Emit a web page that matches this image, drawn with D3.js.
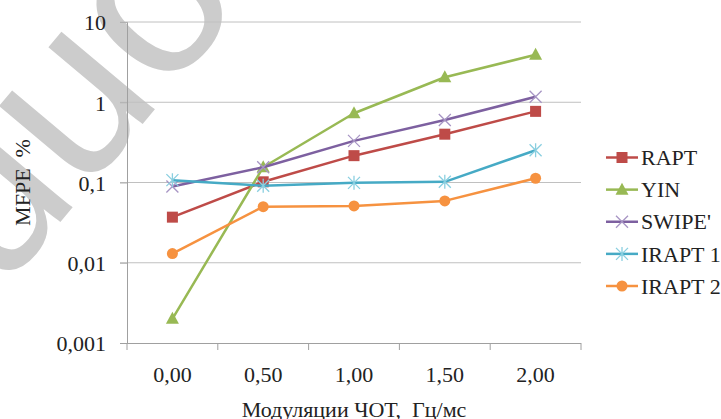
<!DOCTYPE html>
<html><head><meta charset="utf-8">
<script src="https://cdn.jsdelivr.net/npm/d3@7"></script>
<style>
html,body{margin:0;padding:0;background:#fff;}
svg{display:block;}
svg text.serif{font-family:"Liberation Serif","DejaVu Serif","Noto Serif","Times New Roman",serif;}
</style></head>
<body><svg id="c" width="721" height="419"></svg>
<script>
const categories = ["0,00","0,50","1,00","1,50","2,00"];
const seriesNames = ["RAPT","YIN","SWIPE'","IRAPT 1","IRAPT 2"];
const rapt   = [0.037, 0.102, 0.216, 0.40, 0.77];
const yin    = [0.002, 0.155, 0.73, 2.05, 3.9];
const swipe  = [0.089, 0.155, 0.33, 0.60, 1.17];
const irapt1 = [0.107, 0.091, 0.099, 0.102, 0.252];
const irapt2 = [0.013, 0.050, 0.051, 0.059, 0.113];
const yTicks = [0.001, 0.01, 0.1, 1, 10];
const yTickLabels = ["0,001","0,01","0,1","1","10"];
const xTitle = "Модуляции ЧОТ,  Гц/мс";
const yTitle = "MFPE  %";
const watermark = "uuon";

const seriesValues = [rapt, yin, swipe, irapt1, irapt2];
const colors = ["#BE4B48","#98B954","#7D60A0","#46AAC5","#F69240"];
const markerColors = ["#BE4B48","#98B954","#A795C4","#8ACFE0","#F69240"];
const markers = ["square","triangle","x","star","circle"];
const FS = 22;

const svg = d3.select("#c");
const L = 127, R = 581, T = 22, B = 343;

// watermark (behind)
svg.append("text")
  .attr("transform", "translate(0.2,293.6) rotate(-50)")
  .attr("font-family", "Liberation Sans, Arial, sans-serif")
  .attr("font-size", 230)
  .attr("fill", "#cccccc")
  .text(watermark);

const x = d3.scaleBand().domain(categories).range([L, R]).padding(0);
const cx = c => x(c) + x.bandwidth() / 2;
const y = d3.scaleLog().domain([0.001, 10]).range([B, T]);

// gridlines
svg.append("g").selectAll("line").data(yTicks.filter(v => v > 0.001)).join("line")
  .attr("x1", L - 7).attr("x2", R)
  .attr("y1", d => y(d)).attr("y2", d => y(d))
  .attr("stroke", "#c0c0c0").attr("stroke-width", 1);

// y axis
const yAxis = d3.axisLeft(y).tickValues(yTicks).tickSize(7).tickPadding(14)
  .tickFormat((d, i) => yTickLabels[i]);
const gy = svg.append("g").attr("transform", `translate(${L},0)`).call(yAxis);
gy.attr("font-family", null);
gy.select(".domain").attr("stroke", "#a0a0a0");
gy.selectAll(".tick line").attr("stroke", "#b0b0b0");
gy.selectAll(".tick text").attr("class", "serif").attr("font-size", FS)
  .attr("fill", "#222").attr("dy", "0.36em");

// x axis
const xAxis = d3.axisBottom(x).tickSize(0).tickPadding(0);
const gx = svg.append("g").attr("transform", `translate(0,${B})`).call(xAxis);
gx.attr("font-family", null);
gx.select(".domain").attr("stroke", "#a0a0a0").attr("d", `M${L - 7},0.5H${R}`);
gx.selectAll(".tick text").attr("class", "serif").attr("font-size", FS)
  .attr("fill", "#222").attr("y", 39).attr("dy", 0);
const bounds = categories.map(c => x(c)).concat([R]);
svg.append("g").selectAll("line").data(bounds).join("line")
  .attr("x1", d => d).attr("x2", d => d)
  .attr("y1", B).attr("y2", B + 7)
  .attr("stroke", "#a0a0a0");

// titles
svg.append("text").attr("class", "serif").attr("x", (L + R) / 2).attr("y", 417).attr("text-anchor", "middle")
  .attr("font-size", FS).attr("fill", "#222")
  .style("white-space", "pre").text(xTitle);
svg.append("text").attr("class", "serif").attr("transform", `translate(30,${(T + B) / 2}) rotate(-90)`)
  .attr("text-anchor", "middle").attr("font-size", FS).attr("fill", "#222")
  .style("white-space", "pre").text(yTitle);

function drawMarker(g, type, px, py, col) {
  if (type === "square") {
    g.append("rect").attr("x", px - 5.5).attr("y", py - 5.5).attr("width", 11).attr("height", 11).attr("fill", col);
  } else if (type === "triangle") {
    g.append("path").attr("d", `M${px},${py - 7}L${px + 6.5},${py + 5}L${px - 6.5},${py + 5}Z`).attr("fill", col);
  } else if (type === "circle") {
    g.append("circle").attr("cx", px).attr("cy", py).attr("r", 5.5).attr("fill", col);
  } else if (type === "x") {
    g.append("path").attr("d", `M${px - 6},${py - 6}L${px + 6},${py + 6}M${px - 6},${py + 6}L${px + 6},${py - 6}`)
      .attr("stroke", col).attr("stroke-width", 1.3).attr("fill", "none");
  } else if (type === "star") {
    g.append("path").attr("d", `M${px - 6},${py - 6}L${px + 6},${py + 6}M${px - 6},${py + 6}L${px + 6},${py - 6}M${px},${py - 7}L${px},${py + 7}`)
      .attr("stroke", col).attr("stroke-width", 1.3).attr("fill", "none");
  }
}

const line = d3.line().x((d, i) => cx(categories[i])).y(d => y(d));
seriesValues.forEach((vals, s) => {
  const g = svg.append("g");
  g.append("path").attr("d", line(vals)).attr("fill", "none")
    .attr("stroke", colors[s]).attr("stroke-width", 2.5).attr("stroke-linejoin", "round");
  vals.forEach((v, i) => drawMarker(g, markers[s], cx(categories[i]), y(v), markerColors[s]));
});

// legend
const legY = d3.scalePoint().domain(seriesNames).range([157.5, 286]);
seriesNames.forEach((n, s) => {
  const g = svg.append("g");
  const ly = legY(n);
  g.append("line").attr("x1", 606).attr("x2", 638).attr("y1", ly).attr("y2", ly)
    .attr("stroke", colors[s]).attr("stroke-width", 2.5);
  drawMarker(g, markers[s], 622, ly, markerColors[s]);
  g.append("text").attr("class", "serif").attr("x", 641).attr("y", ly).attr("dy", "0.35em")
    .attr("font-size", FS).attr("fill", "#222").text(n);
});
</script></body></html>
